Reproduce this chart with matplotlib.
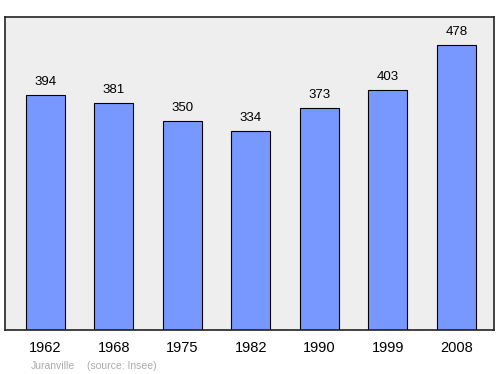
import matplotlib
matplotlib.use("Agg")
import matplotlib.pyplot as plt

years = ["1962", "1968", "1975", "1982", "1990", "1999", "2008"]
population = [394, 381, 350, 334, 373, 403, 478]

plt.rcParams["font.family"] = ["Liberation Sans", "DejaVu Sans"]

fig = plt.figure(figsize=(5, 3.74), dpi=100)
ax = fig.add_axes([0.01, 0.1176, 0.978, 0.837])
ax.set_facecolor("#eeeeee")

pos = list(range(len(years)))
bars = ax.bar(pos, population, width=0.57, color="#7799ff", edgecolor="#000000", linewidth=0.8)

# value labels above each bar
for x, v in zip(pos, population):
    ax.annotate(str(v), (x, v), xytext=(0, 5), textcoords="offset points",
                ha="center", va="bottom", fontsize=9.5)

ax.set_xlim(-0.59, 6.55)
ax.set_ylim(0, 525)
ax.set_yticks([])
ax.set_xticks(pos)
ax.set_xticklabels(years, fontsize=10.5)
ax.tick_params(axis="x", length=0, pad=8)
for s in ax.spines.values():
    s.set_color("#222222")
    s.set_linewidth(1.2)

fig.text(0.062, 0.014, "Juranville", fontsize=7.5, color="#aaaaaa")
fig.text(0.174, 0.014, "(source: Insee)", fontsize=7.5, color="#aaaaaa")

fig.savefig("out.png", dpi=100)
